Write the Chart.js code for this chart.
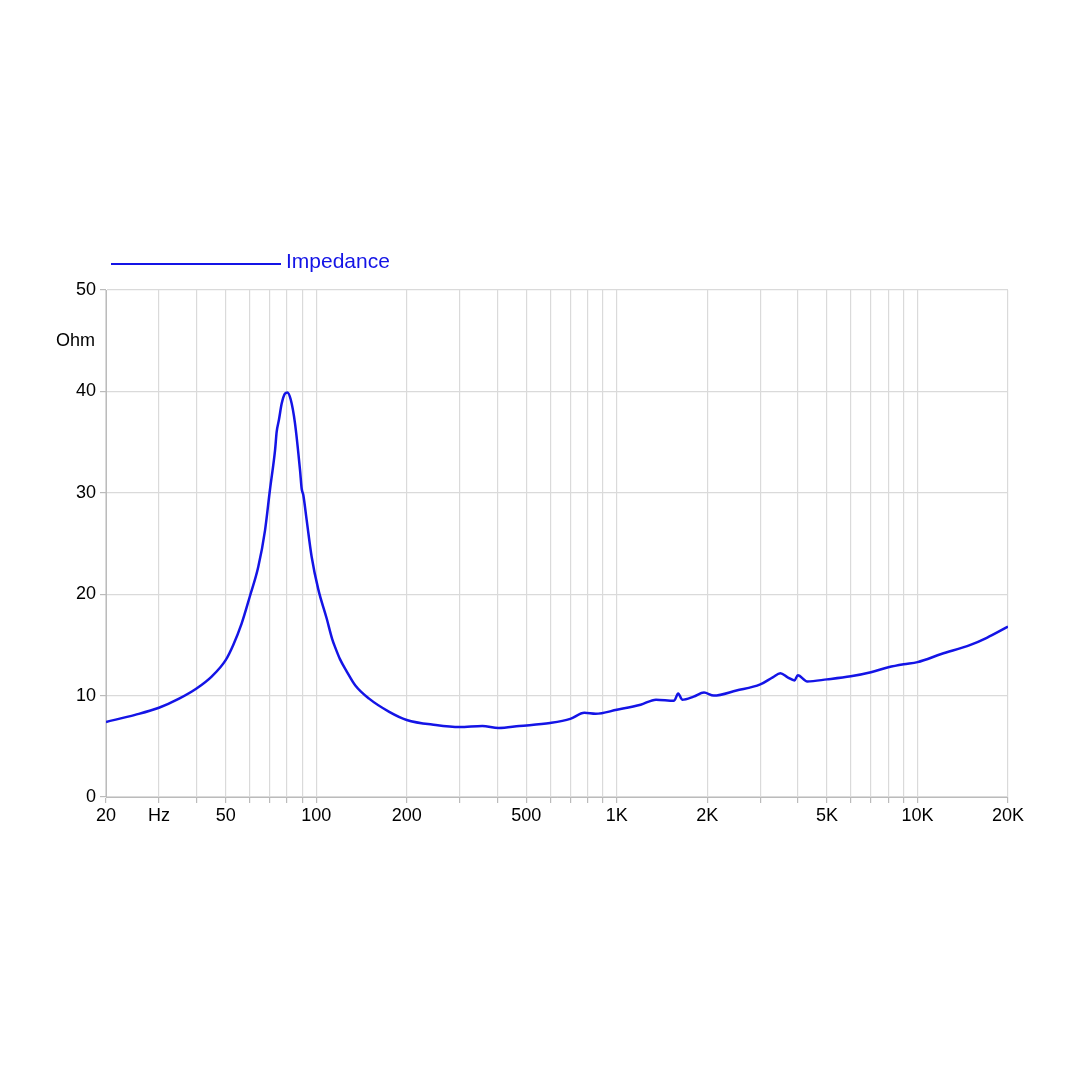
<!DOCTYPE html>
<html>
<head>
<meta charset="utf-8">
<script src="https://cdn.jsdelivr.net/npm/chart.js@4"></script>
<style>
  html, body { margin: 0; padding: 0; background: #fff; }
  #wrap { width: 1080px; height: 1080px; }
</style>
</head>
<body>
<div id="wrap"><canvas id="impChart" width="1080" height="1080"></canvas></div>
<script>
// frequency (Hz)
const freqs = [20, 25, 30, 35, 40, 45, 50, 53, 56.5, 60.2, 64.2, 67.6, 70.2, 73, 73.9, 75.2, 76.8, 78.8, 80.2,
  82.3, 85, 88.4, 89.5, 90.6, 93, 96.6, 101.6, 108.4, 113, 115.9, 120, 126.3, 135, 150, 175, 200, 250, 300, 357,
  404, 474, 600, 700, 780, 850, 1000, 1200, 1350, 1550, 1600, 1650, 1800, 1950, 2100, 2500, 3000, 3300, 3500,
  3700, 3900, 4000, 4300, 5000, 6000, 7000, 8000, 9000, 10000, 12000, 15000, 17000, 20000];
// impedance (Ohm)
const impedance = [7.4, 8.1, 8.8, 9.7, 10.7, 11.9, 13.5, 15.0, 17.1, 19.8, 22.7, 26.3, 30.3, 34.2, 36.0, 37.2, 38.8, 39.8, 39.9,
  39.2, 36.9, 32.2, 30.4, 29.8, 27.3, 23.7, 20.5, 17.6, 15.6, 14.7, 13.6, 12.4, 11.0, 9.7, 8.4, 7.6, 7.1, 6.9, 7.0,
  6.8, 7.0, 7.3, 7.7, 8.3, 8.2, 8.6, 9.1, 9.6, 9.5, 10.2, 9.6, 9.9, 10.3, 10.0, 10.5, 11.1, 11.8, 12.2,
  11.8, 11.5, 12.0, 11.4, 11.6, 11.9, 12.3, 12.8, 13.1, 13.3, 14.1, 15.0, 15.7, 16.8];

// x grid lines and labels
const xGrid = [20, 30, 40, 50, 60, 70, 80, 90, 100, 200, 300, 400, 500, 600, 700, 800, 900, 1000,
  2000, 3000, 4000, 5000, 6000, 7000, 8000, 9000, 10000, 20000];
const xLabels = { 20: '20', 30: 'Hz', 50: '50', 100: '100', 200: '200', 500: '500', 1000: '1K',
  2000: '2K', 5000: '5K', 10000: '10K', 20000: '20K' };
const yTicks = [0, 10, 20, 30, 40, 50];

const lineColor = '#1414e6';
const fontFam = '"Liberation Sans", Arial, sans-serif';

// legend + unit label
const extraText = {
  id: 'extraText',
  afterDraw(chart) {
    const c = chart.ctx;
    c.save();
    c.strokeStyle = lineColor;
    c.lineWidth = 2;
    c.beginPath();
    c.moveTo(111, 264);
    c.lineTo(281, 264);
    c.stroke();
    c.fillStyle = lineColor;
    c.font = '21px ' + fontFam;
    c.textBaseline = 'middle';
    c.fillText('Impedance', 286, 262);
    c.fillStyle = '#000';
    c.font = '18px ' + fontFam;
    c.fillText('Ohm', 56, 341);
    c.restore();
  }
};

new Chart(document.getElementById('impChart'), {
  type: 'line',
  data: {
    datasets: [{
      label: 'Impedance',
      data: freqs.map((f, i) => ({ x: f, y: impedance[i] })),
      borderColor: lineColor,
      borderWidth: 2.5,
      pointRadius: 0,
      cubicInterpolationMode: 'monotone',
      fill: false
    }]
  },
  options: {
    responsive: false,
    animation: false,
    layout: { padding: { top: 290, right: 72, bottom: 243, left: 0 } },
    plugins: { legend: { display: false }, tooltip: { enabled: false } },
    scales: {
      x: {
        type: 'logarithmic',
        min: 20,
        max: 20000,
        afterBuildTicks: axis => { axis.ticks = xGrid.map(v => ({ value: v })); },
        afterFit: axis => { axis.height = 40; },
        grid: { color: '#dadada', lineWidth: 1.2, tickLength: 6, tickColor: '#bbb' },
        border: { color: '#bbb' },
        ticks: {
          autoSkip: false,
          maxRotation: 0,
          padding: 2,
          color: '#000',
          font: { family: fontFam, size: 18 },
          callback: v => xLabels[v] || ''
        }
      },
      y: {
        min: 0,
        max: 50,
        afterBuildTicks: axis => { axis.ticks = yTicks.map(v => ({ value: v })); },
        afterFit: axis => { axis.width = 106; },
        grid: { color: '#dadada', lineWidth: 1.2, tickLength: 6, tickColor: '#bbb' },
        border: { color: '#bbb' },
        ticks: {
          padding: 4,
          color: '#000',
          font: { family: fontFam, size: 18 }
        }
      }
    }
  },
  plugins: [extraText]
});
</script>
</body>
</html>
